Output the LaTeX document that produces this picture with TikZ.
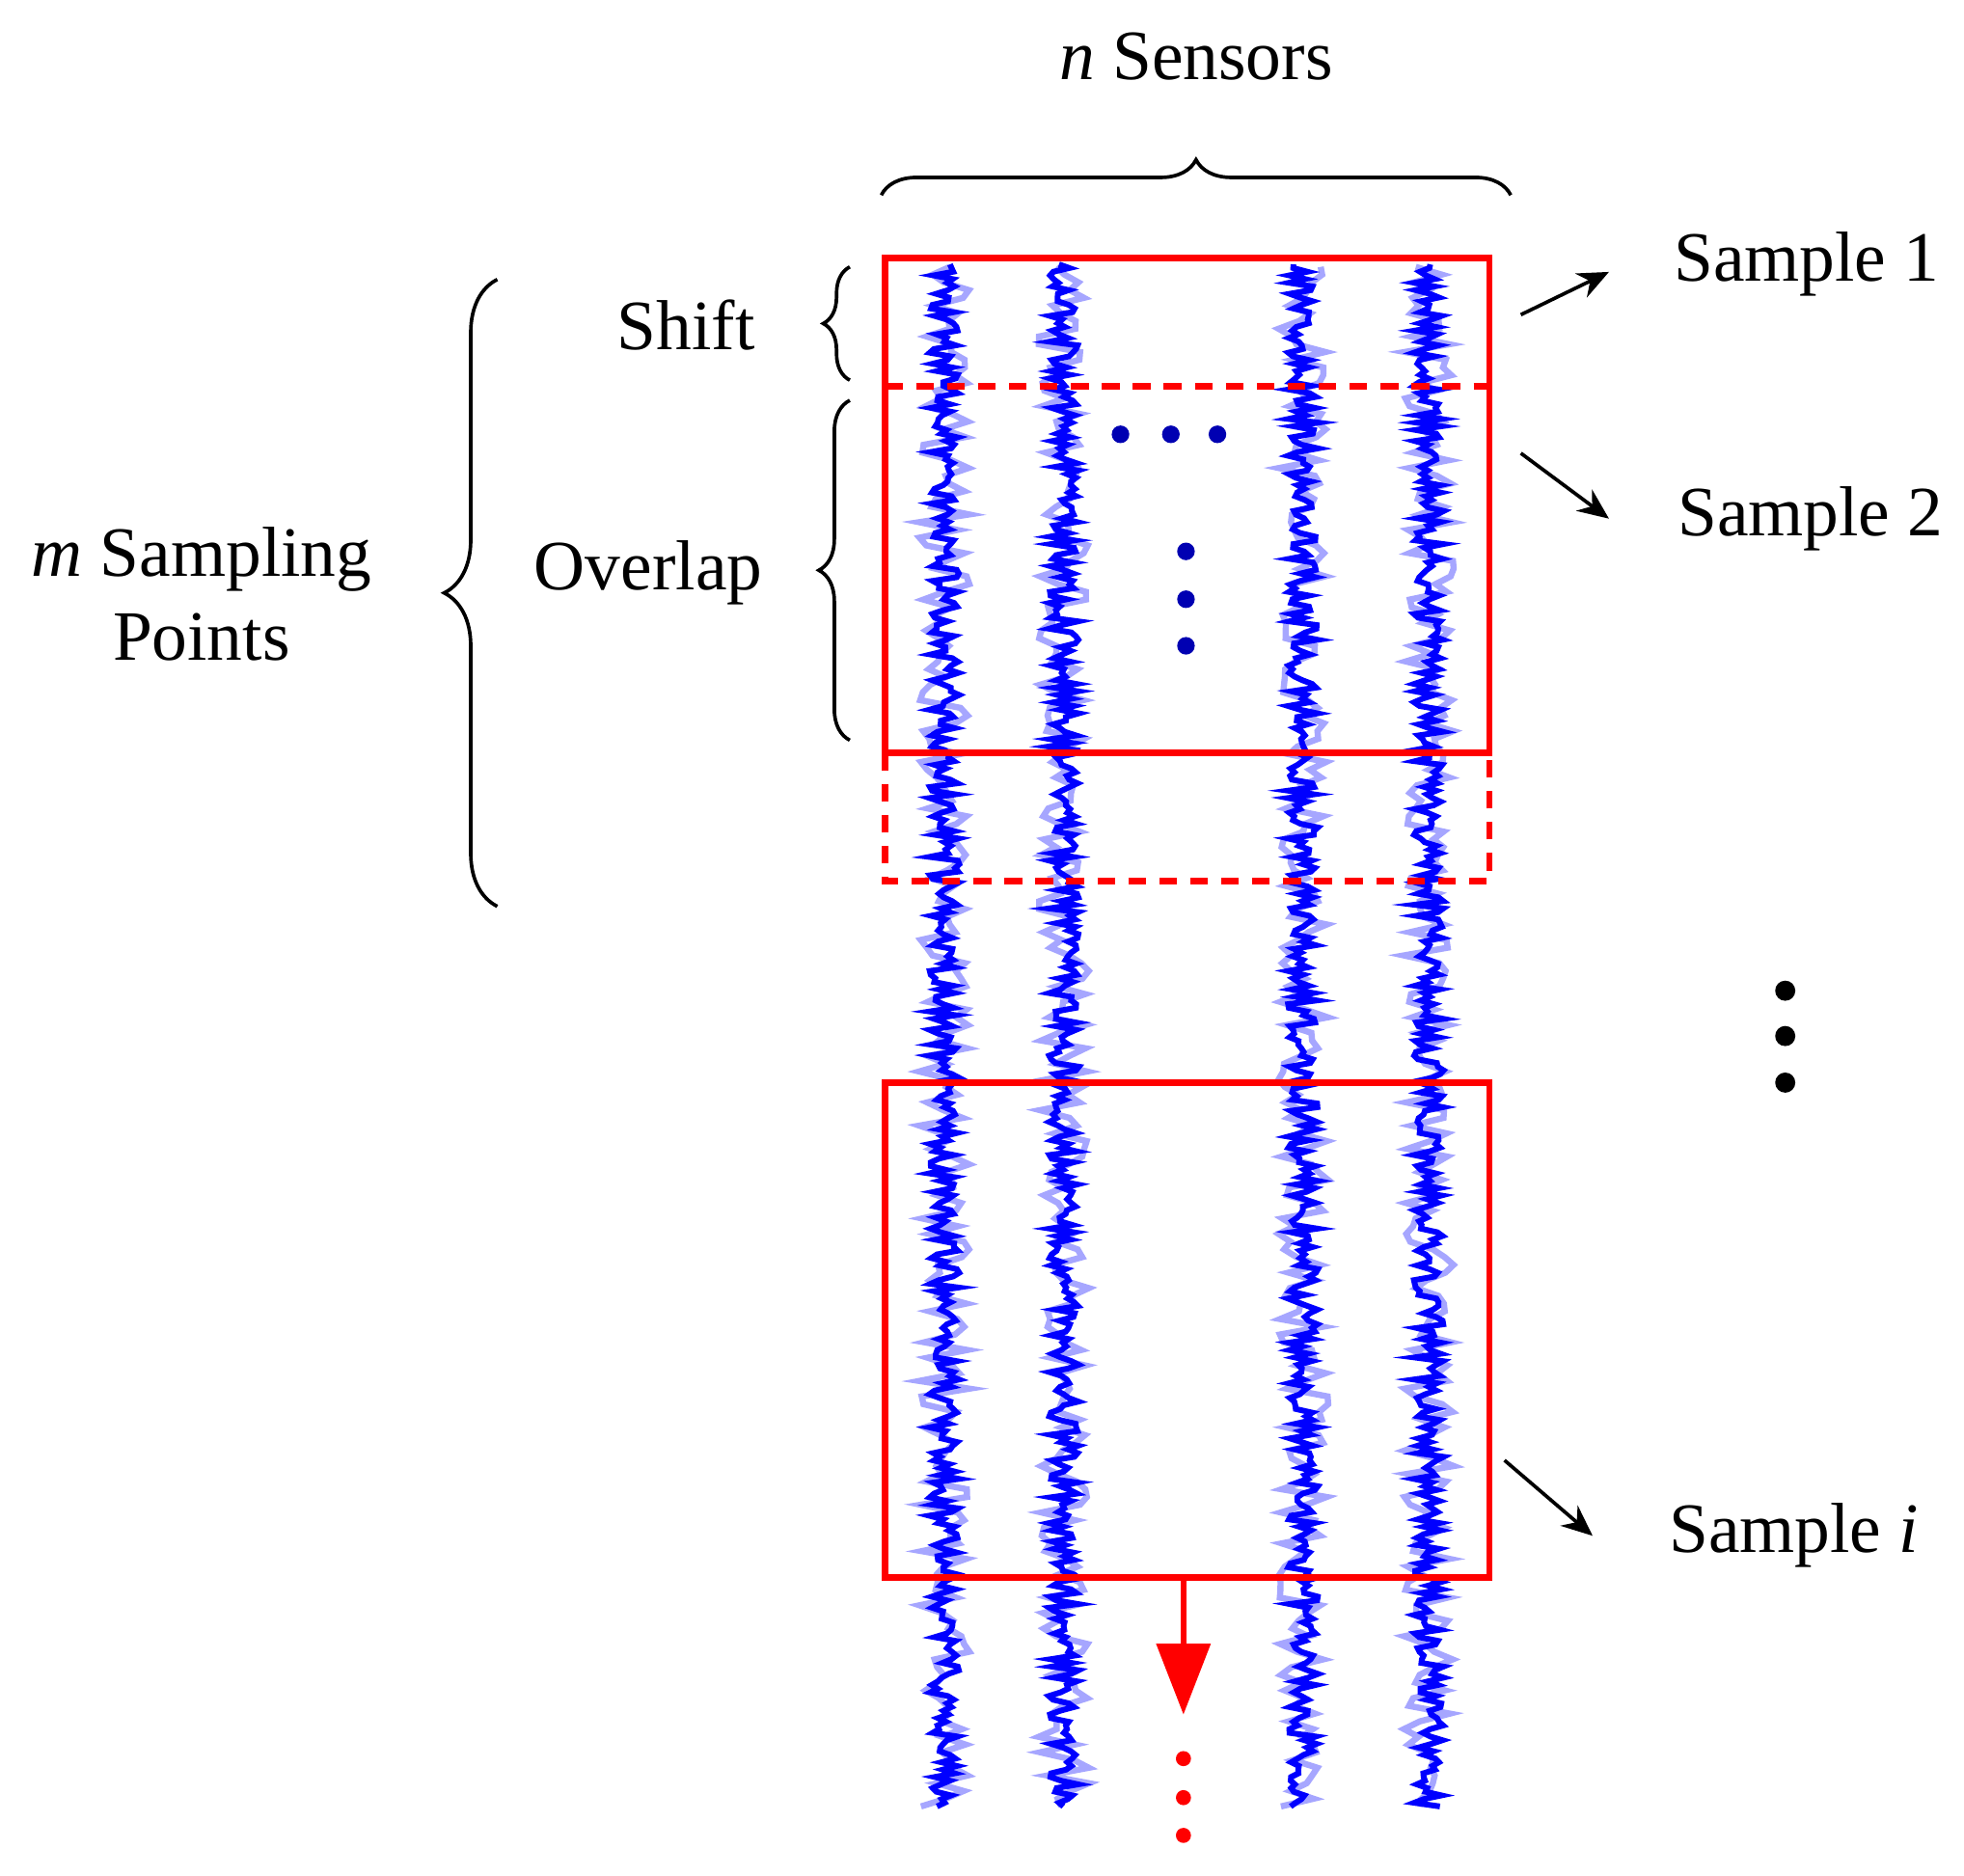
\documentclass[tikz,border=0pt]{standalone}
\usepackage{fontspec}
\setmainfont{Liberation Serif}
\usetikzlibrary{decorations.pathreplacing,arrows.meta}
\begin{document}
\begin{tikzpicture}[x=0.1mm,y=-0.1mm,
  lbl/.style={font=\fontsize{16}{19}\selectfont, inner sep=1pt},
  rbox/.style={draw=red, line width=1.4pt},
  rdash/.style={draw=red, line width=1.4pt, dash pattern=on 4pt off 3pt},
  br/.style={decorate, decoration={brace, amplitude=#1}, line width=0.8pt},
  arr/.style={-{Stealth[length=7pt,width=6pt]}, line width=0.8pt},
  sig/.style={blue, line width=1.3pt},
  sigl/.style={blue!35, line width=1.4pt}]
\useasboundingbox (0,0) rectangle (1560,1490);
\pgfmathsetseed{7}
% signals
\foreach \xo in {750,845,1035,1135}{
  \draw[sigl] plot[variable=\t, domain=212:1435, samples=200] ({\xo+20*rand},{\t});
  \draw[sig] plot[variable=\t, domain=210:1435, samples=420] ({\xo+12*rand},{\t});
}
% boxes
\draw[rbox] (703,205) rectangle (1183,598);
\draw[rdash] (703,307) -- (1183,307);
\draw[rdash] (703,598) -- (703,700) -- (1183,700) -- (1183,598);
\draw[rbox] (703,860) rectangle (1183,1253);
\coordinate (ab) at (940,1253);
\coordinate (ae) at (940,1362);
\draw[red, line width=1.4pt, -{Triangle[length=16pt,width=12pt]}] (ab) -- (ae);
\foreach \y in {1397,1428,1458} \fill[red] (940,\y) circle (6);
% dots
\foreach \x in {890,930,967} \fill[blue!70!black] (\x,345) circle (7);
\foreach \y in {438,476,513} \fill[blue!70!black] (942,\y) circle (7);
\foreach \y in {787,823,860} \fill (1418,\y) circle (8);
% braces
\coordinate (tb1) at (700,155); \coordinate (tb2) at (1200,155);
\draw[br=8] (tb1) -- (tb2);
\node[lbl] (ns) at (950,45) {\textit{n} Sensors};
\coordinate (lb1) at (395,720); \coordinate (lb2) at (395,222);
\draw[br=12] (lb1) -- (lb2);
\node[lbl, align=center] (msp) at (160,472) {\textit{m} Sampling\\Points};
\coordinate (sb1) at (675,302); \coordinate (sb2) at (675,212);
\draw[br=6] (sb1) -- (sb2);
\node[lbl] (sh) at (545,258) {Shift};
\coordinate (ob1) at (675,588); \coordinate (ob2) at (675,318);
\draw[br=7] (ob1) -- (ob2);
\node[lbl] (ov) at (515,455) {Overlap};
% sample labels
\node[lbl] (s1) at (1435,210) {Sample 1};
\node[lbl] (s2) at (1438,412) {Sample 2};
\node[lbl] (si) at (1425,1220) {Sample \textit{i}};
\coordinate (a1) at (1208,250); \coordinate (a1e) at (1278,216);
\coordinate (a2) at (1208,360); \coordinate (a2e) at (1278,412);
\coordinate (a3) at (1195,1160); \coordinate (a3e) at (1265,1220);
\draw[arr] (a1) -- (a1e);
\draw[arr] (a2) -- (a2e);
\draw[arr] (a3) -- (a3e);
\end{tikzpicture}
\end{document}
